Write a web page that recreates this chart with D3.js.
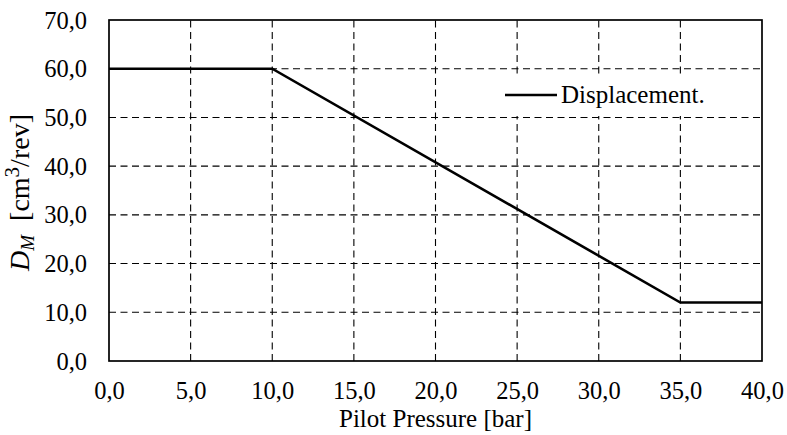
<!DOCTYPE html>
<html>
<head>
<meta charset="utf-8">
<script src="https://cdn.jsdelivr.net/npm/d3@7/dist/d3.min.js"></script>
<style>
  html, body { margin: 0; padding: 0; background: #fff; }
  svg { display: block; }
  text { font-family: "Liberation Serif", "Times New Roman", serif; fill: #000; }
</style>
</head>
<body>
<svg id="chart" width="787" height="435"></svg>
<script>
// Motor displacement versus pilot pressure
const pressure = [0, 10, 35, 40];            // bar
const displacement = [60, 60, 12, 12];       // cm³/rev
const xTicks = [0, 5, 10, 15, 20, 25, 30, 35, 40];
const yTicks = [0, 10, 20, 30, 40, 50, 60, 70];
const seriesName = "Displacement.";
const xTitle = "Pilot Pressure [bar]";

const fmt = v => d3.format(".1f")(v).replace(".", ",");

const svg = d3.select("#chart");
const m = { left: 109, right: 25, top: 20, bottom: 74 };
const W = 787, H = 435;
const x = d3.scaleLinear().domain([0, 40]).range([m.left, W - m.right]);
const y = d3.scaleLinear().domain([0, 70]).range([H - m.bottom, m.top]);

const FONT = '"Liberation Serif", "Times New Roman", serif';
const FS = 24.5;

// dashed grid
const grid = svg.append("g").attr("stroke", "#000").attr("stroke-width", 1.1)
  .attr("stroke-dasharray", "7,4.5").attr("fill", "none");
grid.selectAll("line.v").data(xTicks.filter(t => t > 0 && t < 40)).join("line")
  .attr("class", "v")
  .attr("x1", d => x(d)).attr("x2", d => x(d))
  .attr("y1", y(0)).attr("y2", y(70));

// legend box background (hides the vertical grid lines behind it)
svg.append("rect")
  .attr("x", 500).attr("y", 74).attr("width", 215).attr("height", 42)
  .attr("fill", "#fff");

const hgrid = svg.append("g").attr("stroke", "#000").attr("stroke-width", 1.1)
  .attr("stroke-dasharray", "7,4.5").attr("fill", "none");
hgrid.selectAll("line").data(yTicks.filter(t => t > 0 && t < 70)).join("line")
  .attr("x1", x(0)).attr("x2", x(40))
  .attr("y1", d => y(d)).attr("y2", d => y(d));

// axes via d3 axis generators, styled as a plain frame with labels only
const xAxis = svg.append("g").attr("transform", `translate(0,${y(0)})`)
  .call(d3.axisBottom(x).tickValues(xTicks).tickSize(0).tickFormat(fmt));
const yAxis = svg.append("g").attr("transform", `translate(${x(0)},0)`)
  .call(d3.axisLeft(y).tickValues(yTicks).tickSize(0).tickFormat(fmt));
[xAxis, yAxis].forEach(a => {
  a.select(".domain").remove();
  a.selectAll("text").style("font-family", FONT).style("font-size", FS + "px").attr("fill", "#000");
});
xAxis.selectAll("text").attr("dy", null).attr("y", 38);
yAxis.selectAll("text").attr("dy", null).attr("x", -22).attr("y", 8);

// plot frame
svg.append("rect")
  .attr("x", x(0)).attr("y", y(70))
  .attr("width", x(40) - x(0)).attr("height", y(0) - y(70))
  .attr("fill", "none").attr("stroke", "#000").attr("stroke-width", 1.7);

// data line
const pts = pressure.map((p, i) => [p, displacement[i]]);
svg.append("path")
  .datum(pts)
  .attr("d", d3.line().x(d => x(d[0])).y(d => y(d[1])))
  .attr("fill", "none").attr("stroke", "#000").attr("stroke-width", 2.6);

// legend
svg.append("line").attr("x1", 505).attr("x2", 557).attr("y1", 95).attr("y2", 95)
  .attr("stroke", "#000").attr("stroke-width", 2.6);
svg.append("text").attr("x", 561).attr("y", 103)
  .style("font-family", FONT).style("font-size", "25px").text(seriesName);

// axis titles
svg.append("text").attr("x", (x(0) + x(40)) / 2).attr("y", 427)
  .attr("text-anchor", "middle")
  .style("font-family", FONT).style("font-size", "25px").text(xTitle);

const yt = svg.append("text")
  .attr("transform", "translate(29,192.5) rotate(-90)")
  .attr("text-anchor", "middle")
  .style("font-family", FONT).style("font-size", "28px");
yt.append("tspan").style("font-style", "italic").text("D");
yt.append("tspan").style("font-style", "italic").style("font-size", "19px").attr("dy", 5).text("M");
yt.append("tspan").attr("dy", -5).text("\u00a0\u00a0[cm");
yt.append("tspan").style("font-size", "21px").attr("dy", -10).text("3");
yt.append("tspan").attr("dy", 10).text("/rev]");
</script>
</body>
</html>
